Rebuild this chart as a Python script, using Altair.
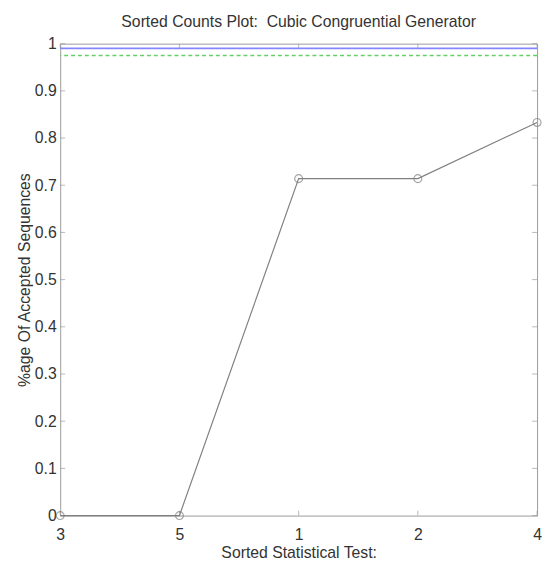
import altair as alt
import pandas as pd

# ---- data ----
tests = ["3", "5", "1", "2", "4"]
accepted = [0.0, 0.0, 0.714, 0.714, 0.833]
upper_line = [0.99]
lower_line = [0.975]
y_ticks = [0.0, 0.1, 0.2, 0.3, 0.4, 0.5, 0.6, 0.7, 0.8, 0.9, 1.0]

FONT = "Liberation Sans"
TXT = "#333333"
FRAME = "#9a9a9a"

main_df = pd.DataFrame({"test": tests, "accepted": accepted})
left_ticks = pd.DataFrame({"test": [tests[0]] * len(y_ticks), "accepted": y_ticks})
right_ticks = pd.DataFrame({"test": [tests[-1]] * len(y_ticks), "accepted": y_ticks})
bottom_ticks = pd.DataFrame({"test": tests, "accepted": [y_ticks[0]] * len(tests)})
top_ticks = pd.DataFrame({"test": tests, "accepted": [y_ticks[-1]] * len(tests)})
upper_df = pd.DataFrame({"accepted": upper_line})
lower_df = pd.DataFrame({"accepted": lower_line})

xenc = alt.X(
    "test:N",
    sort=tests,
    scale=alt.Scale(type="point", padding=0),
    axis=alt.Axis(title="Sorted Statistical Test:", labelAngle=0,
                  labelPadding=11, titlePadding=3),
)
yenc = alt.Y(
    "accepted:Q",
    scale=alt.Scale(domain=[0, 1], nice=False, zero=False),
    axis=alt.Axis(title="%age Of Accepted Sequences", values=y_ticks,
                  format=".1~f", labelPadding=4, titlePadding=2),
)

line = alt.Chart(main_df).mark_line(color="#808080", strokeWidth=1.2).encode(x=xenc, y=yenc)
pts = alt.Chart(main_df).mark_point(shape="circle", size=64, filled=False,
                                    color="#808080", strokeWidth=1.2).encode(x=xenc, y=yenc)

upper = alt.Chart(upper_df).mark_rule(color="#8585ff", strokeWidth=1.6).encode(y=yenc)
lower = alt.Chart(lower_df).mark_rule(color="#66d066", strokeWidth=1.4,
                                      strokeDash=[4, 3]).encode(y=yenc)

tl = alt.Chart(left_ticks).mark_tick(orient="horizontal", size=5, thickness=1,
                                     xOffset=2.5, color=FRAME).encode(x=xenc, y=yenc)
tr = alt.Chart(right_ticks).mark_tick(orient="horizontal", size=5, thickness=1,
                                      xOffset=-2.5, color=FRAME).encode(x=xenc, y=yenc)
tb = alt.Chart(bottom_ticks).mark_tick(orient="vertical", size=5, thickness=1,
                                       yOffset=-2.5, color=FRAME).encode(x=xenc, y=yenc)
tt = alt.Chart(top_ticks).mark_tick(orient="vertical", size=5, thickness=1,
                                    yOffset=2.5, color=FRAME).encode(x=xenc, y=yenc)

chart = (
    alt.layer(tl, tr, tb, tt, upper, lower, line, pts)
    .properties(
        width=484,
        height=479,
        autosize=alt.AutoSizeParams(type="none"),
        padding={"left": 53, "top": 32, "right": 5, "bottom": 48},
        title=alt.TitleParams(
            "Sorted Counts Plot:\u00a0 Cubic Congruential Generator",
            font=FONT, fontSize=16, fontWeight="normal", color=TXT,
            baseline="bottom", offset=10, anchor="middle", frame="group",
            dy=20,
        ),
    )
    .configure_view(stroke=FRAME, strokeWidth=1)
    .configure_axis(
        domain=False, ticks=False, grid=False,
        labelFont=FONT, labelFontSize=16, labelColor=TXT,
        titleFont=FONT, titleFontSize=16, titleFontWeight="normal", titleColor=TXT,
    )
)

chart.save("out.html", embed_options={"renderer": "svg", "actions": False})
